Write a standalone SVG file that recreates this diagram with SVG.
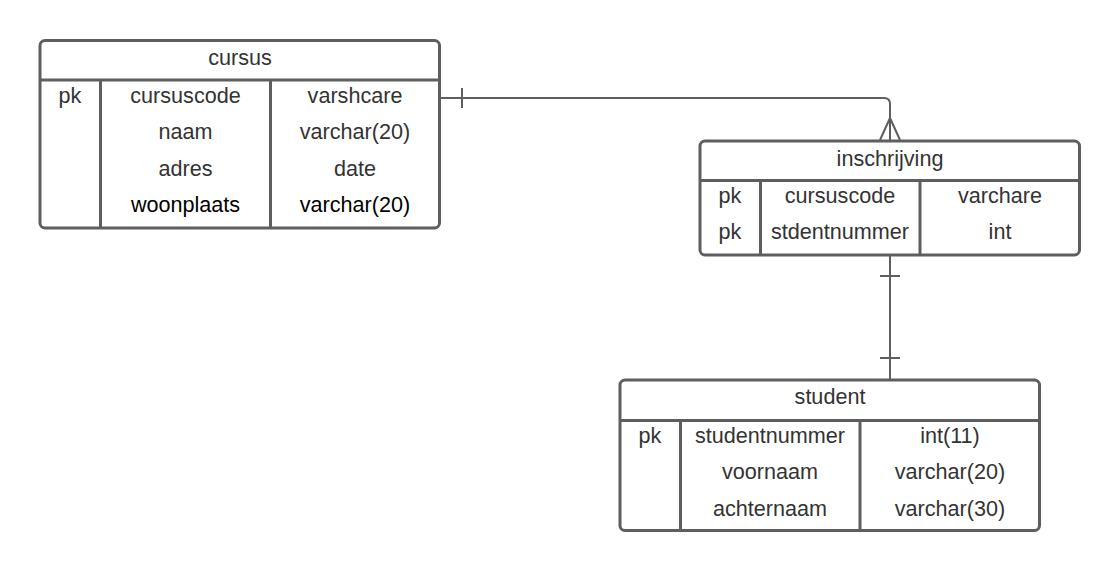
<svg xmlns="http://www.w3.org/2000/svg" width="1120" height="571" viewBox="0 0 1120 571">
<style>
.box{fill:#fff;stroke:#5e5e5e;stroke-width:3}
.ln{stroke:#5e5e5e;stroke-width:3;fill:none}
.cn{stroke:#5e5e5e;stroke-width:2;fill:none}
text{font-family:"Liberation Sans",Arial,sans-serif;font-size:21.6px;fill:#333;text-anchor:middle;dominant-baseline:central}
text.k{fill:#000}
</style>
<rect width="1120" height="571" fill="#fff"/>
<g id="connectors">
<path class="cn" d="M440 98 H884 Q890 98 890 104 V140"/>
<path class="cn" d="M462 88 V108"/>
<path class="cn" d="M880 140 L890 118 L900 140"/>
<path class="cn" d="M890 255 V380"/>
<path class="cn" d="M880 276 H900 M880 358 H900"/>
</g>
<g id="cursus">
<rect class="box" x="40" y="40.5" width="399.5" height="187.5" rx="5"/>
<path class="ln" d="M40 80 H439.5 M100.5 80 V228 M270.5 80 V228"/>
<text x="240" y="57.5">cursus</text>
<text x="70" y="95">pk</text>
<text x="185.5" y="95">cursuscode</text>
<text x="355" y="95">varshcare</text>
<text x="185.5" y="131.5">naam</text>
<text x="355" y="131.5">varchar(20)</text>
<text x="185.5" y="168">adres</text>
<text x="355" y="168">date</text>
<text class="k" x="185.5" y="204.5">woonplaats</text>
<text class="k" x="355" y="204.5">varchar(20)</text>
</g>
<g id="inschrijving">
<rect class="box" x="700" y="141" width="379.5" height="114" rx="5"/>
<path class="ln" d="M700 180.5 H1079.5 M760.5 180.5 V255 M920 180.5 V255"/>
<text x="890" y="158">inschrijving</text>
<text x="730" y="195">pk</text>
<text x="840" y="195">cursuscode</text>
<text x="1000" y="195">varchare</text>
<text x="730" y="231.5">pk</text>
<text x="840" y="231.5">stdentnummer</text>
<text x="1000" y="231.5">int</text>
</g>
<g id="student">
<rect class="box" x="620" y="380" width="419.5" height="150.5" rx="5"/>
<path class="ln" d="M620 420.5 H1039.5 M680.5 420.5 V530.5 M860 420.5 V530.5"/>
<text x="830" y="396">student</text>
<text x="650" y="435">pk</text>
<text x="770" y="435">studentnummer</text>
<text x="950" y="435">int(11)</text>
<text x="770" y="471.5">voornaam</text>
<text x="950" y="471.5">varchar(20)</text>
<text x="770" y="508">achternaam</text>
<text x="950" y="508">varchar(30)</text>
</g>
</svg>
